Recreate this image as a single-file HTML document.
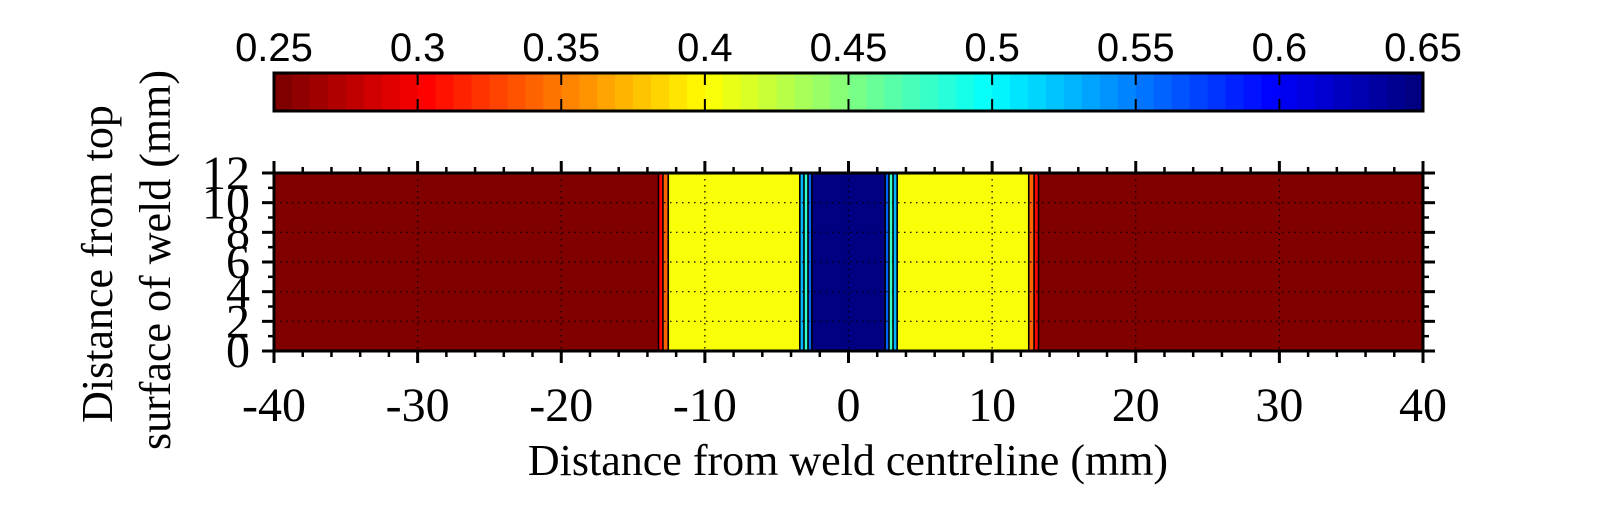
<!DOCTYPE html>
<html><head><meta charset="utf-8"><style>
html,body{margin:0;padding:0;background:#fff;}
svg{display:block;}
text{font-family:"Liberation Serif",serif;fill:#000;}
.cb text{font-family:"Liberation Sans",sans-serif;}
</style></head><body>
<svg id="chart" width="1598" height="524" viewBox="0 0 1598 524" xmlns="http://www.w3.org/2000/svg">
<g id="colorbar" class="cb"></g>
<g id="plot"></g>
<g id="axes"></g>
<text x="848" y="475" font-size="44" text-anchor="middle">Distance from weld centreline (mm)</text>
<text transform="translate(112,264) rotate(-90)" font-size="44" text-anchor="middle">Distance from top</text>
<text transform="translate(170,260) rotate(-90)" font-size="44" text-anchor="middle">surface of weld (mm)</text>
</svg>
<script>
// ---- data ----
const bandEdges = [-40, -13.23, -12.92, -12.55, -3.39, -3.10, -2.82, -2.55, 2.55, 2.82, 3.10, 3.39, 12.55, 12.92, 13.23, 40];
const bandValues = [0.25, 0.30, 0.34, 0.40, 0.53, 0.48, 0.56, 0.65, 0.56, 0.48, 0.53, 0.40, 0.34, 0.30, 0.25];
const xTicks = [-40, -30, -20, -10, 0, 10, 20, 30, 40];
const yTicks = [0, 2, 4, 6, 8, 10, 12];
const cbTicks = [0.25, 0.3, 0.35, 0.4, 0.45, 0.5, 0.55, 0.6, 0.65];
const cbLabels = ["0.25", "0.3", "0.35", "0.4", "0.45", "0.5", "0.55", "0.6", "0.65"];

const NS = "http://www.w3.org/2000/svg";
const X0 = 274, X1 = 1423, Y0 = 351, Y1 = 173;
const xMin = -40, xMax = 40, yMin = 0, yMax = 12, vMin = 0.25, vMax = 0.65;
const CB_Y0 = 73, CB_Y1 = 111;
function sx(v){return X0 + (v - xMin) / (xMax - xMin) * (X1 - X0);}
function sy(v){return Y0 - (v - yMin) / (yMax - yMin) * (Y0 - Y1);}
function scb(v){return X0 + (v - vMin) / (vMax - vMin) * (X1 - X0);}
function clamp(a){return Math.max(0, Math.min(1, a));}
function jet(v){
  let q = (v - vMin) / (vMax - vMin);
  q = Math.round(q * 63) / 63;
  const t = 1 - q;
  const r = clamp(1.5 - Math.abs(4*t - 3)), g = clamp(1.5 - Math.abs(4*t - 2)), b = clamp(1.5 - Math.abs(4*t - 1));
  return "rgb(" + Math.round(r*255) + "," + Math.round(g*255) + "," + Math.round(b*255) + ")";
}
function mk(tag, attrs, parent){
  const e = document.createElementNS(NS, tag);
  for (const k in attrs) e.setAttribute(k, attrs[k]);
  parent.appendChild(e);
  return e;
}

// ---- colorbar ----
const cb = document.getElementById("colorbar");
for (let i = 0; i < 64; i++) {
  const v0 = vMin + i * (vMax - vMin) / 64, v1 = vMin + (i + 1) * (vMax - vMin) / 64;
  const r = mk("rect", {x: scb(v0), y: CB_Y0, width: scb(v1) - scb(v0) + 0.6, height: CB_Y1 - CB_Y0, fill: jet((v0 + v1) / 2)}, cb);
  
  
}
cbTicks.forEach((v, i) => {
  const x = scb(v);
  if (i > 0 && i < cbTicks.length - 1) {
    const a = mk("line", {x1: x, x2: x, y1: CB_Y0, y2: CB_Y0 + 12, stroke: "#000", "stroke-width": 2}, cb);
    
    
    const b = mk("line", {x1: x, x2: x, y1: CB_Y1 - 12, y2: CB_Y1, stroke: "#000", "stroke-width": 2}, cb);
    
    
  }
  const t = mk("text", {x: x, y: 61, "font-size": 40, "text-anchor": "middle"}, cb);
  t.textContent = cbLabels[i];
  
  
});
const cbf = mk("rect", {x: X0, y: CB_Y0, width: X1 - X0, height: CB_Y1 - CB_Y0, fill: "none", stroke: "#000", "stroke-width": 3}, cb);



// ---- contour bands ----
const plot = document.getElementById("plot");
bandValues.forEach((v, i) => {
  const xa = sx(bandEdges[i]), xb = sx(bandEdges[i + 1]);
  const r = mk("rect", {x: xa, y: Y1, width: xb - xa + 0.5, height: Y0 - Y1, fill: jet(v)}, plot);
  
  
});
for (let i = 1; i < bandEdges.length - 1; i++) {
  const x = sx(bandEdges[i]);
  const l = mk("line", {x1: x, x2: x, y1: Y1, y2: Y0, stroke: "#000", "stroke-width": 1.6}, plot);
  
  
}

// ---- grid, ticks, labels ----
const ax = document.getElementById("axes");
xTicks.forEach(v => {
  const x = sx(v);
  if (v > xMin && v < xMax) {
    const g = mk("line", {x1: x, x2: x, y1: Y1, y2: Y0, stroke: "#000", "stroke-width": 1.2, "stroke-dasharray": "1.5 4.5"}, ax);
    
    
  }
  const t1 = mk("line", {x1: x, x2: x, y1: Y1 - 12, y2: Y1, stroke: "#000", "stroke-width": 3}, ax);
  
  
  const t2 = mk("line", {x1: x, x2: x, y1: Y0, y2: Y0 + 12, stroke: "#000", "stroke-width": 3}, ax);
  
  
  const lb = mk("text", {x: x, y: 421, "font-size": 48, "text-anchor": "middle"}, ax);
  lb.textContent = String(v);
  
  
});
for (let v = xMin; v <= xMax; v += 2) {
  if (v % 10 === 0) continue;
  const x = sx(v);
  const a = mk("line", {x1: x, x2: x, y1: Y1 - 6, y2: Y1, stroke: "#000", "stroke-width": 2.5}, ax);
  
  
  const b = mk("line", {x1: x, x2: x, y1: Y0, y2: Y0 + 6, stroke: "#000", "stroke-width": 2.5}, ax);
  
  
}
yTicks.forEach(v => {
  const y = sy(v);
  if (v > yMin && v < yMax) {
    const g = mk("line", {x1: X0, x2: X1, y1: y, y2: y, stroke: "#000", "stroke-width": 1.2, "stroke-dasharray": "1.5 4.5"}, ax);
    
    
  }
  const a = mk("line", {x1: X0 - 12, x2: X0, y1: y, y2: y, stroke: "#000", "stroke-width": 3}, ax);
  
  
  const b = mk("line", {x1: X1, x2: X1 + 12, y1: y, y2: y, stroke: "#000", "stroke-width": 3}, ax);
  
  
  const lb = mk("text", {x: 250, y: y + 16, "font-size": 48, "text-anchor": "end"}, ax);
  lb.textContent = String(v);
  
  
});
for (let v = yMin + 1; v < yMax; v += 2) {
  const y = sy(v);
  const a = mk("line", {x1: X0 - 6, x2: X0, y1: y, y2: y, stroke: "#000", "stroke-width": 2.5}, ax);
  
  
  const b = mk("line", {x1: X1, x2: X1 + 6, y1: y, y2: y, stroke: "#000", "stroke-width": 2.5}, ax);
  
  
}
const fr = mk("rect", {x: X0, y: Y1, width: X1 - X0, height: Y0 - Y1, fill: "none", stroke: "#000", "stroke-width": 3}, ax);


</script>
</body></html>
